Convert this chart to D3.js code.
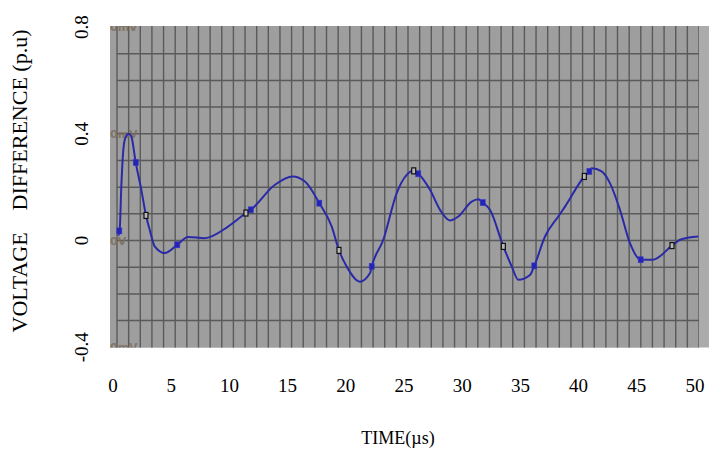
<!DOCTYPE html>
<html>
<head>
<meta charset="utf-8">
<script src="https://cdn.jsdelivr.net/npm/d3@7"></script>
<style>
  body { margin: 0; background: #fff; }
  .lbl { font-family: "Liberation Serif", "Times New Roman", serif; fill: #000; }
</style>
</head>
<body>
<svg id="chart"></svg>
<script>
// waveform (time in us, voltage in p.u)
const timeUs = [0.13, 0.2, 0.23, 0.37, 0.52, 0.71, 1.0, 1.23, 1.61, 2.09, 2.49, 2.81, 3.24, 4.1, 5.18,
  6.1, 7.53, 9.54, 11.08, 11.49, 13.57, 15.09, 16.15, 17.38, 18.45, 19.07, 19.73, 20.88, 21.74, 21.88,
  22.88, 24.03, 24.89, 25.49, 25.88, 26.89, 27.75, 28.61, 29.32, 30.47, 31.04, 31.42, 32.04, 33.19,
  33.91, 34.48, 35.48, 35.85, 36.77, 37.91, 38.49, 40.15, 40.58, 40.78, 41.64, 42.35, 43.21, 44.07,
  44.99, 46.02, 47.68, 48.37, 49.94];
const voltagePu = [0.018, 0.036, 0.04, 0.202, 0.327, 0.384, 0.40, 0.39, 0.292, 0.19, 0.094, 0.04, -0.022, -0.047, -0.016,
  0.013, 0.009, 0.052, 0.103, 0.115, 0.209, 0.240, 0.221, 0.140, 0.052, -0.037, -0.097, -0.154, -0.122, -0.097,
  0.003, 0.178, 0.246, 0.261, 0.250, 0.19, 0.115, 0.075, 0.09, 0.146, 0.155, 0.142, 0.115, -0.022,
  -0.097, -0.147, -0.129, -0.095, 0.015, 0.09, 0.127, 0.240, 0.259, 0.271, 0.259, 0.215, 0.115, -0.01,
  -0.072, -0.072, -0.019, 0.003, 0.015];

// cursor markers on the trace
const blueMarkT = [0.2, 1.61, 5.18, 11.49, 17.38, 21.88, 25.88, 31.42, 35.85, 40.58, 44.99];
const blueMarkV = [0.036, 0.292, -0.016, 0.115, 0.140, -0.097, 0.250, 0.142, -0.095, 0.259, -0.072];
const blackMarkT = [2.49, 11.08, 19.07, 25.49, 33.19, 40.15, 47.68];
const blackMarkV = [0.094, 0.103, -0.037, 0.261, -0.022, 0.240, -0.019];

const xTicks = [0, 5, 10, 15, 20, 25, 30, 35, 40, 45, 50];
const yTicks = [-0.4, 0, 0.4, 0.8];
const scopeTicks = [0.8, 0.4, 0, -0.4];
const scopeText = ["0mV", "0mV", "0V", "0mV"];

class ScopeChart {
  constructor(_config) {
    this.config = {
      parentElement: _config.parentElement,
      width: 709,
      height: 451
    };
    this.initVis();
  }

  initVis() {
    let vis = this;

    vis.svg = d3.select(vis.config.parentElement)
      .attr('width', vis.config.width)
      .attr('height', vis.config.height);

    vis.xScale = d3.scaleLinear().domain([0, 50]).range([117, 699]);
    vis.yScale = d3.scaleLinear().domain([-0.4, 0.8]).range([347.3, 27]);

    // scope screen
    vis.svg.append('rect')
      .attr('x', 110).attr('y', 26)
      .attr('width', 599).attr('height', 321.5)
      .attr('fill', '#ababab');
    vis.svg.append('rect')
      .attr('x', 110).attr('y', 26)
      .attr('width', vis.xScale(50) - 110).attr('height', 321.5)
      .attr('fill', '#9e9e9e');

    vis.svg.append('clipPath').attr('id', 'screen')
      .append('rect')
      .attr('x', 110).attr('y', 26)
      .attr('width', vis.xScale(50) - 110).attr('height', 321.5);

    vis.screen = vis.svg.append('g').attr('clip-path', 'url(#screen)');

    // divisions: 1 us across, 0.1 p.u up
    vis.screen.append('g')
      .selectAll('line')
      .data(d3.range(0, 51))
      .join('line')
      .attr('x1', d => vis.xScale(d)).attr('x2', d => vis.xScale(d))
      .attr('y1', 26).attr('y2', 348)
      .attr('stroke', '#5a5a5a')
      .attr('stroke-width', 1.4);

    vis.screen.append('g')
      .selectAll('line')
      .data(d3.range(-3, 8).map(d => d / 10))
      .join('line')
      .attr('x1', vis.xScale(0)).attr('x2', vis.xScale(50))
      .attr('y1', d => vis.yScale(d)).attr('y2', d => vis.yScale(d))
      .attr('stroke', '#5a5a5a')
      .attr('stroke-width', 1.5);

    vis.screen.append('g')
      .selectAll('text')
      .data(scopeTicks)
      .join('text')
      .attr('x', 110)
      .attr('y', d => vis.yScale(d) + 4)
      .attr('fill', '#7c6e5e')
      .attr('opacity', 0.85)
      .style('font-family', 'DejaVu Sans, sans-serif')
      .style('font-size', '11px')
      .style('font-weight', 'bold')
      .text((d, i) => scopeText[i]);

    // trace
    vis.points = timeUs.map((t, i) => [t, voltagePu[i]]);
    vis.line = d3.line()
      .x(d => vis.xScale(d[0]))
      .y(d => vis.yScale(d[1]))
      .curve(d3.curveMonotoneX);

    vis.screen.append('path')
      .datum(vis.points)
      .attr('fill', 'none')
      .attr('stroke', '#2a2aa8')
      .attr('stroke-width', 2)
      .attr('d', vis.line);

    vis.screen.append('g')
      .selectAll('rect')
      .data(blueMarkT.map((t, i) => [t, blueMarkV[i]]))
      .join('rect')
      .attr('x', d => vis.xScale(d[0]) - 2.5)
      .attr('y', d => vis.yScale(d[1]) - 3)
      .attr('width', 5).attr('height', 6)
      .attr('fill', '#2424b4')
      .attr('stroke', '#3a3ac8')
      .attr('stroke-width', 0.6);

    vis.screen.append('g')
      .selectAll('rect')
      .data(blackMarkT.map((t, i) => [t, blackMarkV[i]]))
      .join('rect')
      .attr('x', d => vis.xScale(d[0]) - 2)
      .attr('y', d => vis.yScale(d[1]) - 3)
      .attr('width', 4).attr('height', 6)
      .attr('fill', '#b8b8b8')
      .attr('stroke', '#111')
      .attr('stroke-width', 1.2);

    // axis labels
    vis.svg.append('g')
      .selectAll('text')
      .data(xTicks)
      .join('text')
      .attr('class', 'lbl')
      .attr('x', d => vis.xScale(d) - 4)
      .attr('y', 392)
      .attr('text-anchor', 'middle')
      .style('font-size', '19px')
      .text(d => d);

    vis.svg.append('g')
      .selectAll('text')
      .data(yTicks)
      .join('text')
      .attr('class', 'lbl')
      .attr('transform', d => `translate(88,${vis.yScale(d)}) rotate(-90)`)
      .attr('text-anchor', 'middle')
      .style('font-size', '19px')
      .text(d => d);

    vis.svg.append('text')
      .attr('class', 'lbl')
      .attr('x', 398).attr('y', 444)
      .attr('text-anchor', 'middle')
      .style('font-size', '18px')
      .text('TIME(\u00b5s)');

    vis.svg.append('text')
      .attr('class', 'lbl')
      .attr('transform', 'translate(27,181) rotate(-90)')
      .attr('text-anchor', 'middle')
      .attr('xml:space', 'preserve')
      .style('white-space', 'pre')
      .style('font-size', '22px')
      .text('VOLTAGE    DIFFERENCE (p.u)');
  }
}

new ScopeChart({ parentElement: '#chart' });
</script>
</body>
</html>
